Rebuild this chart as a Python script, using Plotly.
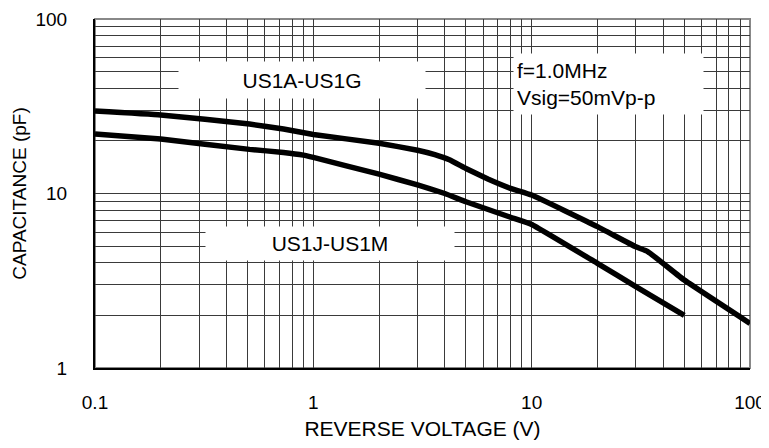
import plotly.graph_objects as go

# Data
voltage_a = [0.1, 0.2, 0.51, 0.73, 1.0, 2.0, 3.0, 3.6, 4.2, 5.0, 6.3, 8.0, 10.0, 20.0, 30.0, 34.0, 50.0, 100.0]
cap_a = [29.7, 28.2, 25.0, 23.4, 21.8, 19.4, 17.7, 16.7, 15.6, 13.9, 12.1, 10.7, 9.8, 6.46, 4.95, 4.65, 3.19, 1.80]

voltage_j = [0.1, 0.2, 0.51, 0.73, 0.9, 1.0, 2.0, 3.0, 4.0, 5.0, 8.0, 10.0, 20.0, 30.0, 50.0]
cap_j = [21.9, 20.5, 17.9, 17.2, 16.6, 16.1, 12.9, 11.2, 10.0, 8.97, 7.31, 6.65, 3.98, 2.93, 2.0]

x_ticks = [0.1, 1, 10, 100]
x_tick_labels = ["0.1", "1", "10", "100"]
y_ticks = [1, 10, 100]
y_tick_labels = ["1", "10", "100"]

x_minor = [d * m for d in [0.1, 1, 10] for m in range(2, 10)]
y_minor = [d * m for d in [1, 10] for m in range(2, 10)]

FONT = "Arial, Liberation Sans, sans-serif"
GRID = "#3a3a3a"

fig = go.Figure()
fig.add_trace(go.Scatter(x=voltage_a, y=cap_a, mode="lines",
                         line=dict(color="black", width=5.5, shape="spline", smoothing=0.3),
                         showlegend=False, hoverinfo="skip"))
fig.add_trace(go.Scatter(x=voltage_j, y=cap_j, mode="lines",
                         line=dict(color="black", width=5.5, shape="spline", smoothing=0.3),
                         showlegend=False, hoverinfo="skip"))

fig.update_xaxes(type="log", range=[-1, 2], tickvals=x_ticks, ticktext=x_tick_labels,
                 showgrid=True, gridcolor=GRID, gridwidth=1,
                 minor=dict(tickvals=x_minor, showgrid=True, gridcolor=GRID, gridwidth=1, ticks=""),
                 showline=True, linecolor="black", linewidth=2, mirror=False,
                 ticks="outside", ticklen=16, tickcolor="rgba(0,0,0,0)",
                 tickfont=dict(family=FONT, size=19, color="black"),
                 title=dict(text="REVERSE VOLTAGE (V)", font=dict(family=FONT, size=21, color="black"), standoff=10),
                 zeroline=False, automargin=False)
fig.update_yaxes(type="log", range=[0, 2], tickvals=y_ticks, ticktext=y_tick_labels,
                 showgrid=True, gridcolor=GRID, gridwidth=1,
                 minor=dict(tickvals=y_minor, showgrid=True, gridcolor=GRID, gridwidth=1, ticks=""),
                 showline=True, linecolor="black", linewidth=2, mirror=False,
                 ticks="outside", ticklen=22, tickcolor="rgba(0,0,0,0)",
                 tickfont=dict(family=FONT, size=19, color="black"),
                 title=dict(text="CAPACITANCE (pF)", font=dict(family=FONT, size=19, color="black"), standoff=4),
                 zeroline=False, automargin=False)

# gray frame on top / right
fig.add_shape(type="rect", xref="paper", yref="paper", x0=0, x1=1, y0=0, y1=1,
              line=dict(color="#888888", width=2), fillcolor="rgba(0,0,0,0)", layer="below")

ann_font = dict(family=FONT, size=21, color="black")
fig.add_annotation(x=-0.052, y=1.650, xref="x", yref="y", text="US1A-US1G", showarrow=False,
                   bgcolor="white", width=246, height=36, borderpad=0, font=ann_font,
                   xanchor="center", yanchor="middle")
fig.add_annotation(x=1.350, y=1.628, xref="x", yref="y", text="f=1.0MHz<br>Vsig=50mVp-p",
                   showarrow=False, bgcolor="white", width=183, height=54, borderpad=3,
                   font=ann_font, align="left", xanchor="center", yanchor="middle")
fig.add_annotation(x=0.0765, y=0.713, xref="x", yref="y", text="US1J-US1M", showarrow=False,
                   bgcolor="white", width=248, height=33, borderpad=0, font=ann_font,
                   xanchor="center", yanchor="middle")

# the page body has an 8px margin, so the figure is 8px smaller to fit the window
fig.update_layout(width=761, height=440, margin=dict(l=87, r=19, t=11, b=80),
                  paper_bgcolor="white", plot_bgcolor="white")

fig.write_html("out.html")
